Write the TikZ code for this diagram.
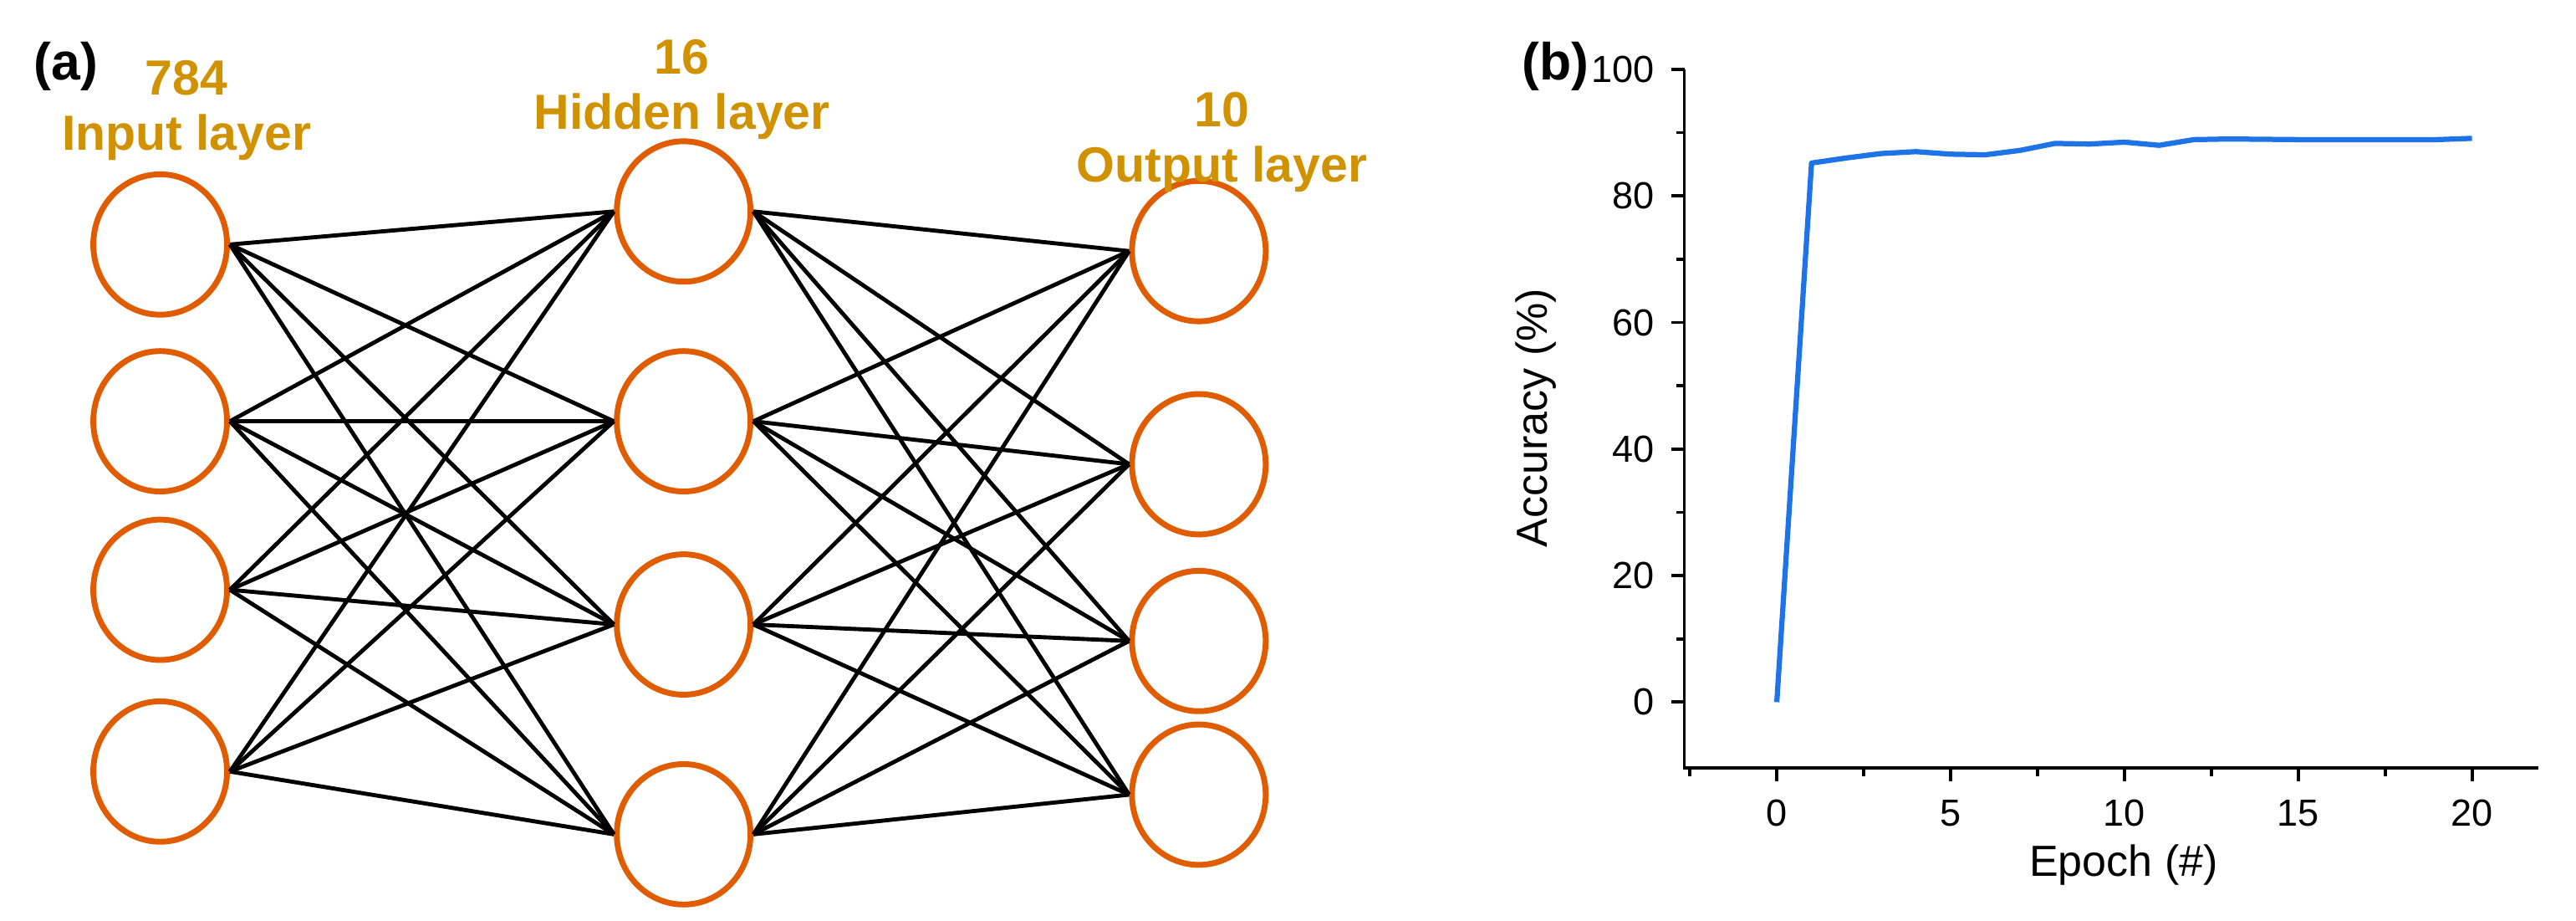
\documentclass[tikz,border=0pt]{standalone}
\usepackage{fontspec}
\usetikzlibrary{shapes.geometric}
\setmainfont{Liberation Sans}
\begin{document}
\definecolor{circ}{RGB}{224,92,0}
\definecolor{lab}{RGB}{208,146,0}
\definecolor{curve}{RGB}{30,115,230}
\begin{tikzpicture}[x=0.02cm,y=-0.02cm,
  neuron/.style={ellipse,draw=circ,line width=2pt,minimum width=1.62cm,minimum height=1.7cm,inner sep=0pt},
  conn/.style={line width=1.4pt,black},
  lay/.style={text=lab,font=\fontsize{17}{19}\selectfont\bfseries,align=center},
  panel/.style={font=\fontsize{18}{20}\selectfont\bfseries},
  tick/.style={font=\fontsize{13}{15}\selectfont}]
\useasboundingbox (0,0) rectangle (1560,557);
% neurons
\foreach \i/\y in {1/148,2/255,3/357,4/467} \node[neuron] (i\i) at (97,\y) {};
\foreach \i/\y in {1/128,2/255,3/378,4/505} \node[neuron] (h\i) at (414,\y) {};
\foreach \i/\y in {1/152,2/281,3/388,4/481} \node[neuron] (o\i) at (726,\y) {};
\foreach \a in {1,...,4}{\foreach \b in {1,...,4}{
  \draw[conn] (i\a.east) -- (h\b.west);
  \draw[conn] (h\a.east) -- (o\b.west);}}
\node[panel] (pa) at (40,40) {(a)};
\node[lay] (t1) at (113,67) {784\\Input layer};
\node[lay] (t2) at (413,54) {16\\Hidden layer};
\node[lay] (t3) at (740,86) {10\\Output layer};
% plot
\node[panel] (pb) at (942,40) {(b)};
\coordinate (o) at (1020,465);
\coordinate (xe) at (1537,465);
\coordinate (ye) at (1020,42);
\draw[line width=1.1pt] (ye) -- (o) -- (xe);
\foreach \v in {0,5,...,20}{
  \draw[line width=1.1pt] ({1076+21.05*\v},465) -- ++(0,8);
  \node[tick,anchor=north] (xl\v) at ({1076+21.05*\v},478) {\v};}
\foreach \v in {-2.5,2.5,7.5,12.5,17.5}
  \draw[line width=1.1pt] ({1076+21.05*\v},465) -- ++(0,5);
\foreach \v in {0,20,...,100}{
  \draw[line width=1.1pt] (1020,{425-3.83*\v}) -- ++(-8,0);
  \node[tick,anchor=east] (yl\v) at (1008,{425-3.83*\v}) {\v};}
\foreach \v in {10,30,50,70,90}
  \draw[line width=1.1pt] (1020,{425-3.83*\v}) -- ++(-5,0);
\node[font=\fontsize{15}{17}\selectfont,anchor=north] (xt) at (1286,505) {Epoch (\#)};
\node[font=\fontsize{15}{17}\selectfont,rotate=90] (yt) at (930,253) {Accuracy (\%)};
\draw[curve,line width=1.8pt,line join=round] plot coordinates {
 ({1076+21.05*0},{425-3.83*0}) ({1076+21.05*1},{425-3.83*85.2})
 ({1076+21.05*2},{425-3.83*86}) ({1076+21.05*3},{425-3.83*86.7})
 ({1076+21.05*4},{425-3.83*87}) ({1076+21.05*5},{425-3.83*86.6})
 ({1076+21.05*6},{425-3.83*86.5}) ({1076+21.05*7},{425-3.83*87.2})
 ({1076+21.05*8},{425-3.83*88.3}) ({1076+21.05*9},{425-3.83*88.2})
 ({1076+21.05*10},{425-3.83*88.5}) ({1076+21.05*11},{425-3.83*88})
 ({1076+21.05*12},{425-3.83*88.9}) ({1076+21.05*13},{425-3.83*89})
 ({1076+21.05*15},{425-3.83*88.9}) ({1076+21.05*19},{425-3.83*88.9})
 ({1076+21.05*20},{425-3.83*89.1})};
\end{tikzpicture}
\end{document}
